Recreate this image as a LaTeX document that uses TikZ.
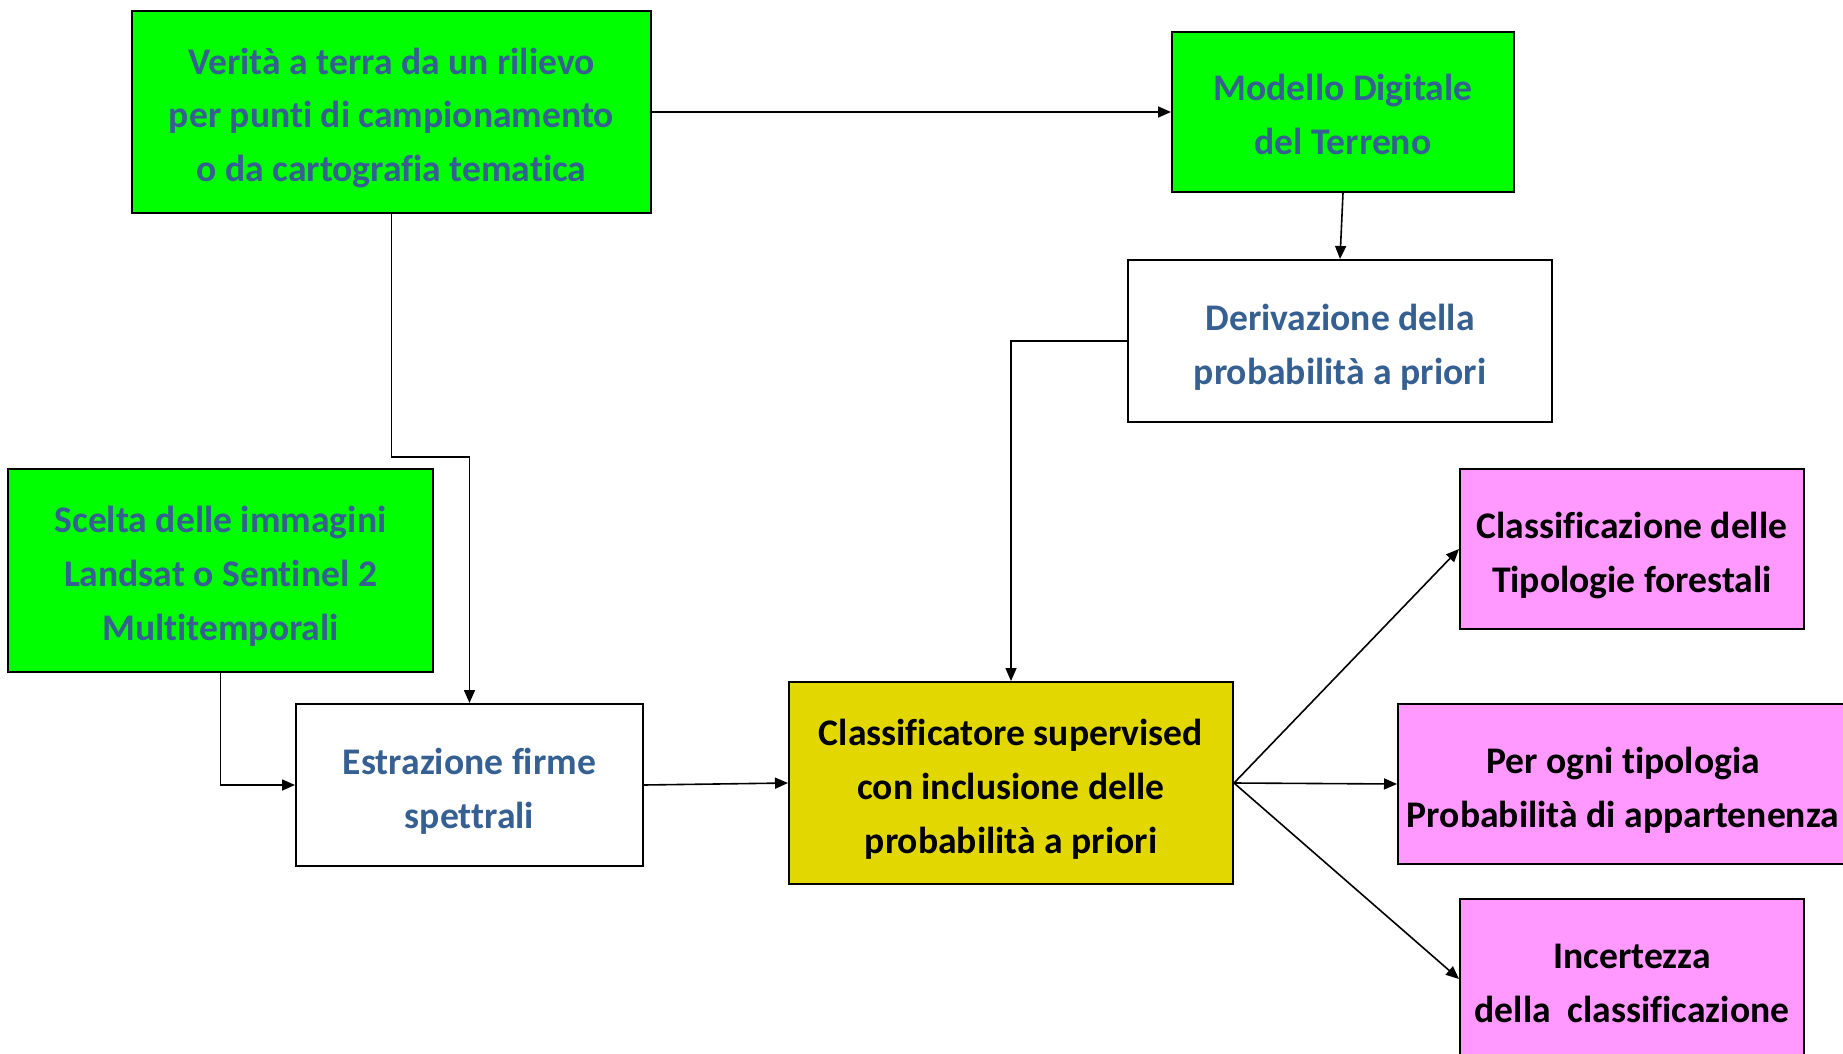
\documentclass[tikz,border=0pt]{standalone}
\usepackage{fontspec}
\setmainfont{Carlito}[Ligatures=NoCommon]
\usetikzlibrary{arrows.meta}
\definecolor{boxgreen}{RGB}{0,255,0}
\definecolor{boxyellow}{RGB}{226,216,0}
\definecolor{boxpink}{RGB}{255,153,255}
\definecolor{textblue}{RGB}{54,96,146}
\newcommand{\alto}{\rule{0pt}{21pt}}
\tikzset{
  blocco/.style={draw=black, line width=1pt, rectangle, inner sep=0pt, align=center,
    font=\bfseries\fontsize{18.8}{27}\selectfont,
    execute at end node={\rule[-5pt]{0pt}{0pt}}},
  ingresso/.style={blocco, fill=boxgreen, text=textblue},
  passo/.style={blocco, fill=white, text=textblue},
  classif/.style={blocco, fill=boxyellow, text=black},
  uscita/.style={blocco, fill=boxpink, text=black},
  freccia/.style={line width=0.8pt, -{Triangle[length=6.5pt,width=5.5pt]}}
}

\begin{document}
\begin{tikzpicture}[x=0.5pt, y=-0.5pt]
		%%%%% START %%%%%
		\useasboundingbox (0,0) rectangle (1843,1054);
		
		\node[ingresso, minimum width=259.5pt, minimum height=101pt] (verita) at (391.5, 112)
			{\alto Verità a terra da un rilievo\\ per punti di campionamento\\ o da cartografia tematica};
		\node[ingresso, minimum width=171pt, minimum height=80pt] (dtm) at (1343, 112)
			{\alto Modello Digitale\\ del Terreno};
		\node[passo, minimum width=212pt, minimum height=81pt] (derivazione) at (1340, 341)
			{\alto Derivazione della\\ probabilità a priori};
		\node[ingresso, minimum width=212.5pt, minimum height=101.5pt] (immagini) at (220.5, 570.5)
			{\alto Scelta delle immagini\\ Landsat o Sentinel 2\\ Multitemporali};
		\node[passo, minimum width=173.5pt, minimum height=81pt] (firme) at (469.5, 785)
			{\alto Estrazione firme\\ spettrali};
		\node[classif, minimum width=222pt, minimum height=101pt] (classificatore) at (1011, 783)
			{\alto Classificatore supervised\\ con inclusione delle\\ probabilità a priori};
		
		\node[uscita, minimum width=172pt, minimum height=80pt] (tipologie) at (1632, 549)
			{\alto Classificazione delle\\ Tipologie forestali};
		\node[uscita, minimum width=225pt, minimum height=80pt] (appartenenza) at (1623, 784)
			{\alto Per ogni tipologia\\ Probabilità di appartenenza};
		\node[uscita, minimum width=172pt, minimum height=80pt] (incertezza) at (1632, 979)
			{\alto Incertezza\\ della\ \ classificazione};
		
		\coordinate (gomito) at (391.5, 457);
		
		\draw[freccia] (verita) -- (dtm);
		\draw[freccia] (dtm.south) -- (derivazione.north);
		\draw[freccia] (verita.south) -- (gomito) -| (firme.north);
		\draw[freccia] (immagini.south) |- (firme.west);
		\draw[freccia] (derivazione.west) -| (classificatore.north);
		\draw[freccia] (firme.east) -- (classificatore.west);
		
		\draw[freccia] (classificatore.east) -- (tipologie.west);
		\draw[freccia] (classificatore.east) -- (appartenenza.west);
		\draw[freccia] (classificatore.east) -- (incertezza.west);
		
		%%%%% END %%%%%
\end{tikzpicture}
\end{document}
